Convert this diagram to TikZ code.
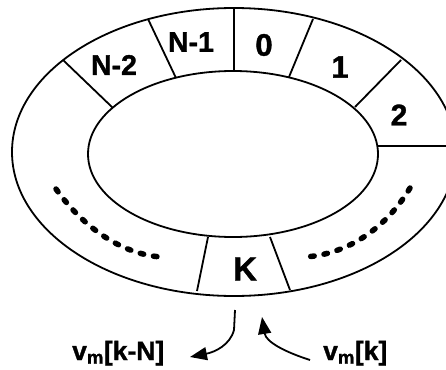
\documentclass[tikz,border=0pt]{standalone}
\usepackage{fontspec}
\setmainfont{Liberation Sans}
\newfontfamily\heavyfont[FakeBold=1.2]{Liberation Sans Bold}
\usetikzlibrary{arrows.meta}
\tikzset{
  ring/.style={line width=1.8pt},
  lbl/.style={font=\heavyfont\fontsize{28.5}{30}\selectfont, inner sep=0pt},
  numlbl/.style={font=\heavyfont\fontsize{31}{33}\selectfont, inner sep=0pt},
  biglbl/.style={font=\heavyfont\fontsize{33}{35}\selectfont, inner sep=0pt},
  sig/.style={font=\heavyfont\fontsize{26.5}{28}\selectfont, inner sep=0pt},
  dots/.style={line width=5.5pt, line cap=round, dash pattern=on 3.5pt off 10pt},
  flow/.style={line width=1.8pt, -{Triangle[length=17pt,width=13pt]}},
}
\begin{document}
\begin{tikzpicture}[x=1pt,y=-1pt]
\useasboundingbox (0,0) rectangle (446,369);
\begin{scope}
\clip (0,0) rectangle (446,369);
\draw[ring] (234,152) ellipse [x radius=222, y radius=144];
\draw[ring] (233,154) ellipse [x radius=145, y radius=83];
% dividers
\draw[ring] (234,8) -- (234,71);
\draw[ring] (148,19) -- (176,78);
\draw[ring] (63,60) -- (113,108);
\draw[ring] (313,19) -- (289,77);
\draw[ring] (401,60) -- (355,107);
\draw[ring] (378,146) -- (446,146);
\draw[ring] (208,237) -- (197,291);
\draw[ring] (270,237) -- (290,290);
\end{scope}
% labels
\node[lbl] (n2) at (114,65) {N-2};
\node[lbl] (n1) at (191,42) {N-1};
\node[numlbl] (z) at (264,45) {0};
\node[numlbl] (o) at (340,67) {1};
\node[numlbl, font=\heavyfont\fontsize{30}{32}\selectfont] (t) at (399,115) {2};
\node[biglbl] (k) at (245,269) {K};
% dashed arcs
\draw[dots] (56,189) .. controls (85,230) and (125,255) .. (162,257);
\draw[dots] (410,188) .. controls (385,230) and (345,255) .. (304,257);
% signals
\node[sig, anchor=base west] (out) at (72,360) {v\textsubscript{m}[k-N]};
\node[sig, anchor=base west] (in) at (323,360) {v\textsubscript{m}[k]};
\coordinate (s1) at (235,310);
\coordinate (e1) at (190,357);
\coordinate (s2) at (310,360);
\coordinate (e2) at (262,317);
\draw[flow] (s1) -- (234,330) .. controls (230,345) and (215,352) .. (e1);
\draw[flow] (s2) .. controls (285,352) and (266,342) .. (e2);
\end{tikzpicture}
\end{document}
